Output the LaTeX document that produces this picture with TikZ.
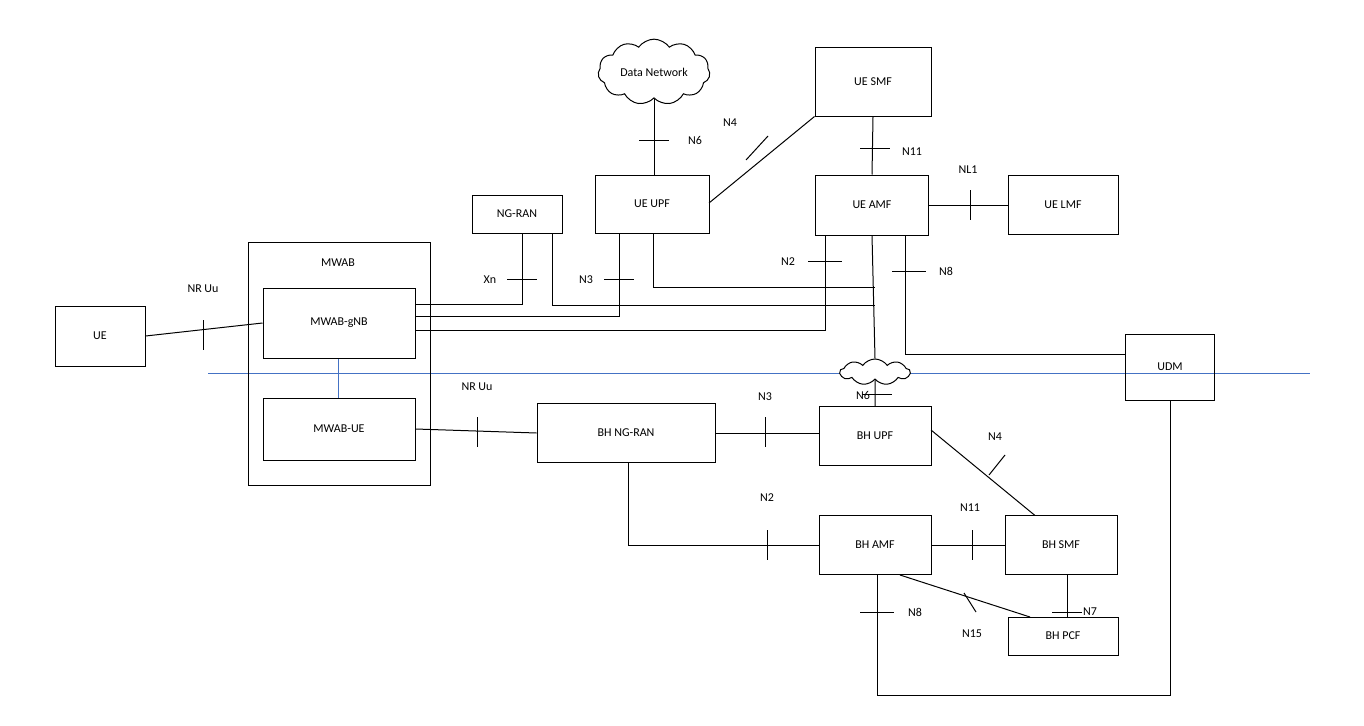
\documentclass[tikz,border=0pt]{standalone}
\usepackage{fontspec}
\setmainfont{Carlito}
\usetikzlibrary{shapes.symbols}
\begin{document}
\begin{tikzpicture}[x=1pt,y=-1pt,line width=1pt,
  box/.style={draw,fill=white,minimum width=#1,inner sep=0pt},
  lbl/.style={font=\fontsize{12}{14}\selectfont},
  cl/.style={cloud,draw,fill=white,cloud puffs=11,cloud puff arc=110,aspect=2}]
\useasboundingbox (0,0) rectangle (1364,725);
\tikzset{every node/.append style={font=\fontsize{12}{14}\selectfont}}
% blue line
\draw[color={rgb,255:red,68;green,114;blue,196}] (208,373) -- (1310,373);
\draw[color={rgb,255:red,68;green,114;blue,196}] (338,358) -- (338,398);
% boxes
\node[draw,minimum width=182,minimum height=243,anchor=north west] (mwab) at (248,242) {};
\node at (338,263) {MWAB};
\node[draw,minimum width=90,minimum height=60] (ue) at (100,336) {UE};
\node[draw,minimum width=152,minimum height=70] (gnb) at (339,323) {MWAB-gNB};
\node[draw,minimum width=152,minimum height=62] (mue) at (339,429) {MWAB-UE};
\node[draw,minimum width=90,minimum height=38] (ngran) at (517,214) {NG-RAN};
\node[draw,minimum width=114,minimum height=58] (upf) at (652,204) {UE UPF};
\node[draw,minimum width=113,minimum height=60] (amf) at (872,205) {UE AMF};
\node[draw,minimum width=116,minimum height=68] (smf) at (873,82) {UE SMF};
\node[draw,minimum width=110,minimum height=59] (lmf) at (1063,205) {UE LMF};
\node[draw,minimum width=89,minimum height=66] (udm) at (1170,367) {UDM};
\node[draw,minimum width=178,minimum height=59] (bhran) at (626,433) {BH NG-RAN};
\node[draw,minimum width=112,minimum height=59] (bhupf) at (875,436) {BH UPF};
\node[draw,minimum width=112,minimum height=59] (bhamf) at (875,545) {BH AMF};
\node[draw,minimum width=112,minimum height=59] (bhsmf) at (1061,545) {BH SMF};
\node[draw,minimum width=110,minimum height=38] (bhpcf) at (1063,636) {BH PCF};
\node[cl,minimum width=112,minimum height=58] (dn) at (654,72) {Data Network};
% connections top
\draw (dn.south) -- (upf.north -| dn.south);
\draw (upf.east) ++(0,0) coordinate (a1);
\draw (709,203) -- (smf.south west);
\draw (smf.south) -- (amf.north);
\draw (amf.east) -- (lmf.west);
\draw (ue.east) -- (gnb.west);
% gNB to core
\draw (522,233) -- (522,304) -- (gnb.east |- 0,304);
\draw (552,233) -- (552,305) -- (875,305);
\draw (619,233) -- (619,316) -- (gnb.east |- 0,316);
\draw (653,233) -- (653,287) -- (875,287);
\draw (825,235) -- (825,330) -- (gnb.east |- 0,330);
\draw (905,235) -- (905,354) -- (udm.west |- 0,354);
\node[cl,minimum width=70,minimum height=26,cloud puffs=9,aspect=2.6] (sc) at (875,372) {};
\draw (amf.south) -- (sc.north);
\draw (sc.south) -- (bhupf.north);
% bottom
\draw (mue.east) -- (bhran.west);
\draw (bhran.east) -- (bhupf.west |- bhran.east);
\draw (628,463) -- (628,545) -- (bhamf.west);
\draw (931,430) -- (1035,515.5);
\draw (bhamf.east) -- (bhsmf.west);
\draw (bhsmf.south -| 1067,0) -- (1067,617);
\draw (900,575) -- (1030,617);
\draw (877,575) -- (877,695) -- (1170,695) -- (udm.south);
% ticks (vertical on horizontal lines)
\foreach \x/\y in {203/335,477/432,765/432,767/545,972/545,970/205}
  \draw (\x,\y-15) -- (\x,\y+15);
% ticks (horizontal on vertical lines)
\foreach \x/\y/\a/\b in {654/140/15/15,875/148/15/15,522/279/15/15,619/279/15/15,825/261/17/17,909/271/17/17,877/394/15/15,1067/612/15/15,877/612/17/17}
  \draw (\x-\a,\y) -- (\x+\b,\y);
% diagonal ticks
\draw (746,160) -- (768,136);
\draw (1005,455) -- (989,475);
\draw (964,593) -- (976,612);
% labels
\node at (203,289) {NR Uu};
\node at (477,387) {NR Uu};
\node at (695,140) {N6};
\node at (730,123) {N4};
\node at (912,152) {N11};
\node at (968,170) {NL1};
\node at (490,280) {Xn};
\node at (586,280) {N3};
\node at (788,262) {N2};
\node at (946,271) {N8};
\node at (863,395) {N6};
\node at (765,397) {N3};
\node at (767,498) {N2};
\node at (995,437) {N4};
\node at (970,508) {N11};
\node at (1090,612) {N7};
\node at (915,612) {N8};
\node at (972,634) {N15};
\end{tikzpicture}
\end{document}
